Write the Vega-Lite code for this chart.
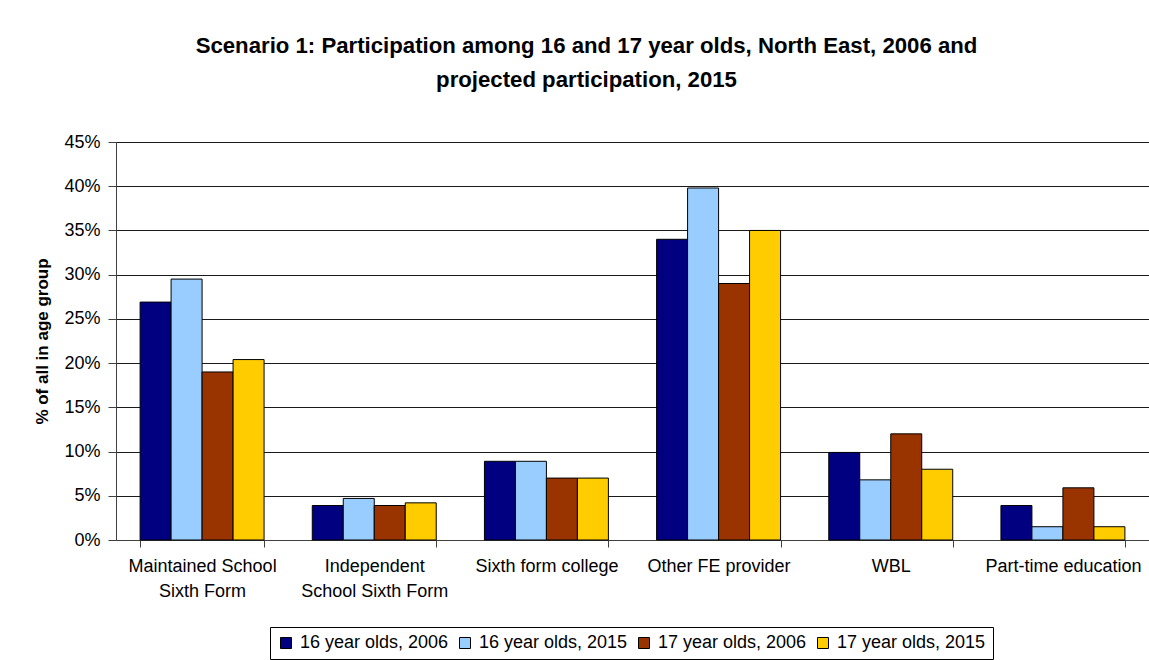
{
  "$schema": "https://vega.github.io/schema/vega-lite/v6.json",
  "width": 1033,
  "height": 398,
  "autosize": {"type": "none"},
  "padding": {"left": 116, "top": 142, "right": 0, "bottom": 120},
  "background": "white",
  "title": {
    "text": ["Scenario 1: Participation among 16 and 17 year olds, North East, 2006 and", "projected participation, 2015"],
    "font": "Liberation Sans",
    "fontSize": 22.2,
    "fontWeight": "bold",
    "color": "black",
    "lineHeight": 34,
    "anchor": "middle",
    "dx": -46,
    "offset": 42
  },
  "data": {
    "values": [
      {"provider": "Maintained School Sixth Form", "series": "16 year olds, 2006", "share": 0.269},
      {"provider": "Maintained School Sixth Form", "series": "16 year olds, 2015", "share": 0.295},
      {"provider": "Maintained School Sixth Form", "series": "17 year olds, 2006", "share": 0.19},
      {"provider": "Maintained School Sixth Form", "series": "17 year olds, 2015", "share": 0.204},
      {"provider": "Independent School Sixth Form", "series": "16 year olds, 2006", "share": 0.039},
      {"provider": "Independent School Sixth Form", "series": "16 year olds, 2015", "share": 0.047},
      {"provider": "Independent School Sixth Form", "series": "17 year olds, 2006", "share": 0.039},
      {"provider": "Independent School Sixth Form", "series": "17 year olds, 2015", "share": 0.042},
      {"provider": "Sixth form college", "series": "16 year olds, 2006", "share": 0.089},
      {"provider": "Sixth form college", "series": "16 year olds, 2015", "share": 0.089},
      {"provider": "Sixth form college", "series": "17 year olds, 2006", "share": 0.07},
      {"provider": "Sixth form college", "series": "17 year olds, 2015", "share": 0.07},
      {"provider": "Other FE provider", "series": "16 year olds, 2006", "share": 0.34},
      {"provider": "Other FE provider", "series": "16 year olds, 2015", "share": 0.398},
      {"provider": "Other FE provider", "series": "17 year olds, 2006", "share": 0.29},
      {"provider": "Other FE provider", "series": "17 year olds, 2015", "share": 0.35},
      {"provider": "WBL", "series": "16 year olds, 2006", "share": 0.099},
      {"provider": "WBL", "series": "16 year olds, 2015", "share": 0.068},
      {"provider": "WBL", "series": "17 year olds, 2006", "share": 0.12},
      {"provider": "WBL", "series": "17 year olds, 2015", "share": 0.08},
      {"provider": "Part-time education", "series": "16 year olds, 2006", "share": 0.039},
      {"provider": "Part-time education", "series": "16 year olds, 2015", "share": 0.015},
      {"provider": "Part-time education", "series": "17 year olds, 2006", "share": 0.059},
      {"provider": "Part-time education", "series": "17 year olds, 2015", "share": 0.015}
    ]
  },
  "mark": {"type": "bar", "stroke": "black", "strokeWidth": 1},
  "encoding": {
    "x": {
      "field": "provider",
      "type": "nominal",
      "sort": ["Maintained School Sixth Form", "Independent School Sixth Form", "Sixth form college", "Other FE provider", "WBL", "Part-time education"],
      "scale": {"paddingInner": 0.28, "paddingOuter": 0.14},
      "axis": {
        "title": null,
        "labelAngle": 0,
        "tickBand": "extent",
        "tickSize": 7,
        "labelPadding": 10,
        "labelFontSize": 18,
        "labelLineHeight": 25,
        "labelOverlap": false,
        "labelLimit": 250,
        "labelExpr": "datum.value == 'Maintained School Sixth Form' ? ['Maintained School', 'Sixth Form'] : datum.value == 'Independent School Sixth Form' ? ['Independent', 'School Sixth Form'] : datum.value",
        "grid": false
      }
    },
    "xOffset": {
      "field": "series",
      "sort": ["16 year olds, 2006", "16 year olds, 2015", "17 year olds, 2006", "17 year olds, 2015"]
    },
    "y": {
      "field": "share",
      "type": "quantitative",
      "scale": {"domain": [0, 0.45], "nice": false},
      "axis": {
        "values": [0, 0.05, 0.1, 0.15, 0.2, 0.25, 0.3, 0.35, 0.4, 0.45],
        "format": ".0%",
        "title": "% of all in age group",
        "titleFontSize": 17,
        "titleFontWeight": "bold",
        "titlePadding": 12,
        "labelFontSize": 18,
        "tickSize": 8,
        "labelPadding": 8,
        "grid": true,
        "gridColor": "#1a1a1a",
        "gridWidth": 1
      }
    },
    "color": {
      "field": "series",
      "type": "nominal",
      "scale": {
        "domain": ["16 year olds, 2006", "16 year olds, 2015", "17 year olds, 2006", "17 year olds, 2015"],
        "range": ["#000080", "#99ccff", "#993300", "#ffcc00"]
      },
      "legend": {
        "title": null,
        "orient": "none",
        "legendX": 154,
        "legendY": 485,
        "direction": "horizontal",
        "symbolType": "square",
        "symbolSize": 121,
        "symbolStrokeColor": "black",
        "symbolStrokeWidth": 1,
        "labelFontSize": 18,
        "labelColor": "black",
        "labelOffset": 5,
        "labelLimit": 300,
        "columnPadding": 7,
        "strokeColor": "black",
        "fillColor": "white",
        "padding": 7
      }
    }
  },
  "config": {
    "font": "Liberation Sans",
    "view": {"stroke": "#808080", "strokeWidth": 1},
    "axis": {
      "labelColor": "black",
      "titleColor": "black",
      "labelFont": "Liberation Sans",
      "titleFont": "Liberation Sans",
      "domainColor": "#404040",
      "tickColor": "#404040",
      "domainWidth": 1,
      "tickWidth": 1
    },
    "legend": {"labelFont": "Liberation Sans"}
  }
}
